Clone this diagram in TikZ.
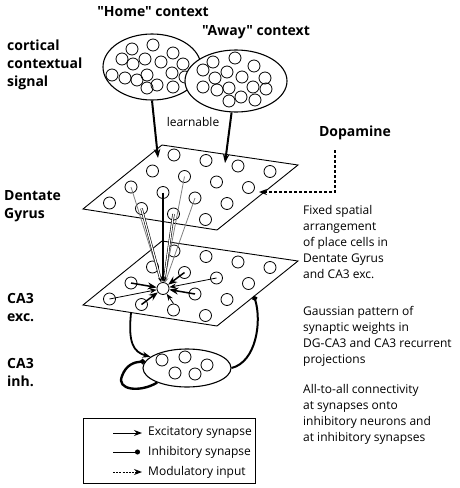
\documentclass[tikz,border=0pt]{standalone}
\usepackage{fontspec}
\setmainfont{Open Sans}[Ligatures=TeXOff]
\usetikzlibrary{shapes.geometric,arrows.meta,calc}
\newcommand\mylbl{\fontsize{14}{18}\selectfont\bfseries}
\newcommand\mytxt{\fontsize{12}{16}\selectfont}
\begin{document}
\begin{tikzpicture}[x=1pt,y=-1pt,
  cell/.style={circle,draw,line width=0.8pt,minimum size=12pt,inner sep=0pt},
  ctx/.style={ellipse,draw,line width=1.1pt,fill=white,inner sep=0pt},
  plane/.style={draw,line width=0.9pt,line join=miter},
  lbl/.style={anchor=west,align=left,inner sep=0pt,font=\mylbl},
  txt/.style={anchor=west,align=left,inner sep=0pt,font=\mytxt},
  bigexc/.style={line width=2pt,-{Stealth[length=9pt,width=6.5pt]}},
  exc/.style={line width=1.8pt,-{Stealth[length=8pt,width=6pt]}},
  inh/.style={line width=2pt,-{Circle[length=5pt]}},
  mod/.style={line width=1.4pt,dash pattern=on 3pt off 2pt,-{Stealth[length=8pt,width=6pt]}},
  dggray/.style={draw=gray,line width=0.8pt,-{Stealth[length=5pt,width=3.5pt]}},
  dgdouble/.style={line width=0.6pt,double=white,double distance=1.2pt,-{Stealth[length=5pt,width=3.5pt]}},
  dgthick/.style={line width=2.4pt,-{Stealth[length=6pt,width=4.5pt]}},
  recnear/.style={line width=1.5pt,-{Stealth[length=9pt,width=7pt]}},
  recfar/.style={line width=0.8pt,-{Stealth[length=7pt,width=5pt]}}
]
\useasboundingbox (0,0) rectangle (459,488);

% ---- labels ----
\node[font=\mylbl,inner sep=0pt] (thome) at (153,12) {"Home" context};
\node[font=\mylbl,inner sep=0pt] (taway) at (256,32) {"Away" context};
\node[lbl] (tcort) at (7,64.5) {cortical\\contextual\\signal};
\node[lbl] (tdg) at (4,206) {Dentate\\Gyrus};
\node[lbl] (tca3e) at (7,307.5) {CA3\\exc.};
\node[lbl] (tca3i) at (7,372.5) {CA3\\inh.};
\node[font=\mylbl,inner sep=0pt] (tdopa) at (355,133) {Dopamine};
\node[font=\mytxt,inner sep=0pt] (tlearn) at (193,122) {learnable};
\node[txt] (tfixed) at (303,242.5) {Fixed spatial\\arrangement\\of place cells in\\Dentate Gyrus\\and CA3 exc.};
\node[txt] (tgauss) at (303,336) {Gaussian pattern of\\synaptic weights in\\DG-CA3 and CA3 recurrent\\projections};
\node[txt] (tall) at (303,414) {All-to-all connectivity\\at synapses onto\\inhibitory neurons and\\at inhibitory synapses};

% ---- context ellipses ----
\node[ctx,minimum width=98pt,minimum height=66pt] (home) at (152,67) {};
\foreach \p [count=\k] in {(153,45),(132,49),(173,53),(122,59),(145,59),(161,62),(133,64),(183,64),(112,75),(125,78),(137,80),(147,75),(172,73),(157,85),(147,88),(173,87),(185,77)}
  \node[cell] (h\k) at \p {};
\node[ctx,minimum width=102pt,minimum height=62pt] (away) at (236,81) {};
\foreach \p [count=\k] in {(235,58),(213,62),(254,66),(203,70),(227,72),(215,78),(242,77),(265,78),(203,87),(217,90),(229,88),(253,87),(266,89),(241,97),(229,101),(255,100)}
  \node[cell] (a\k) at \p {};

% ---- Dentate gyrus plane ----
\draw[plane] (83,209) -- (162,145) -- (298,165) -- (217,230) -- cycle;
\foreach \i in {0,...,3}{\foreach \j in {0,...,3}{
  \node[cell] (dg-\i-\j) at ({174+32*\i-21.5*\j},{155+5.5*\i+16*\j}) {};}}

% ---- CA3 exc plane ----
\draw[plane] (83,305) -- (162,241) -- (298,261) -- (217,326) -- cycle;
\foreach \i in {0,...,3}{\foreach \j in {0,...,3}{
  \node[cell] (ca-\i-\j) at ({174+32*\i-21.5*\j},{251+5.5*\i+16*\j}) {};}}

% ---- CA3 inh ----
\node[ctx,minimum width=88pt,minimum height=38pt] (inhib) at (187,368) {};
\foreach \p [count=\k] in {(162,360),(185,357),(207,365),(175,373),(195,374)}
  \node[cell] (i\k) at \p {};

% ---- cortical inputs ----
\coordinate (dgin1) at (158,158);
\coordinate (dgin2) at (225,163);
\draw[bigexc] (home.south) -- (dgin1);
\draw[bigexc] (away.262) -- (dgin2);

% ---- dopamine ----
\coordinate (dopa1) at (335,150);
\coordinate (dopa2) at (335,192);
\coordinate (dgdopa) at (259,192);
\draw[mod] (dopa1) -- (dopa2) -- (dgdopa);

% ---- DG -> CA3 ----
\draw[dggray] (dg-0-2.center) -- (ca-1-2);
\draw[dggray] (dg-1-1.center) -- (ca-1-2);
\draw[dggray] (dg-2-2.center) -- (ca-1-2);
\draw[dgdouble] (dg-1-3.center) -- (ca-1-2);
\draw[dgdouble] (dg-2-3.center) -- (ca-1-2);
\draw[dgthick] (dg-1-2.center) -- (ca-1-2);

% ---- CA3 recurrent ----
\draw[recnear] (ca-0-2.center) -- (ca-1-2);
\draw[recnear] (ca-1-3.center) -- (ca-1-2);
\draw[recnear] (ca-2-2.center) -- (ca-1-2);
\draw[recnear] (ca-1-1.center) -- (ca-1-2);
\draw[recfar] (ca-0-3.center) -- (ca-1-2);
\draw[recfar] (ca-2-1.center) -- (ca-1-2);
\draw[recfar] (ca-2-3.north) -- (ca-1-2);

% ---- CA3 exc <-> inh ----
\coordinate (ca3l) at (131,313);
\coordinate (ca3r) at (254,296);
\draw[exc] (ca3l) .. controls (128,342) and (133,352) .. (inhib.163);
\draw[inh] (inhib.east) .. controls (256,362) and (262,322) .. (ca3r);
\draw[inh,line width=2.4pt] (inhib.206) .. controls (140,393) and (116,390) .. (122,376) .. controls (126,365) and (134,362) .. (inhib.171);

% ---- legend ----
\draw[line width=0.9pt] (83,418) rectangle (255,483);
\coordinate (l1a) at (113,433); \coordinate (l1b) at (142,433);
\coordinate (l2a) at (113,452); \coordinate (l2b) at (140,452);
\coordinate (l3a) at (113,472); \coordinate (l3b) at (142,472);
\draw[line width=1pt,-{Stealth[length=8pt,width=6pt]}] (l1a) -- (l1b);
\draw[line width=1pt,-{Circle[length=5pt]}] (l2a) -- (l2b);
\draw[line width=1pt,dash pattern=on 2pt off 1.2pt,-{Stealth[length=8pt,width=6pt]}] (l3a) -- (l3b);
\node[txt] (lt1) at (148,433) {Excitatory synapse};
\node[txt] (lt2) at (148,452) {Inhibitory synapse};
\node[txt] (lt3) at (148,472) {Modulatory input};
\end{tikzpicture}
\end{document}
